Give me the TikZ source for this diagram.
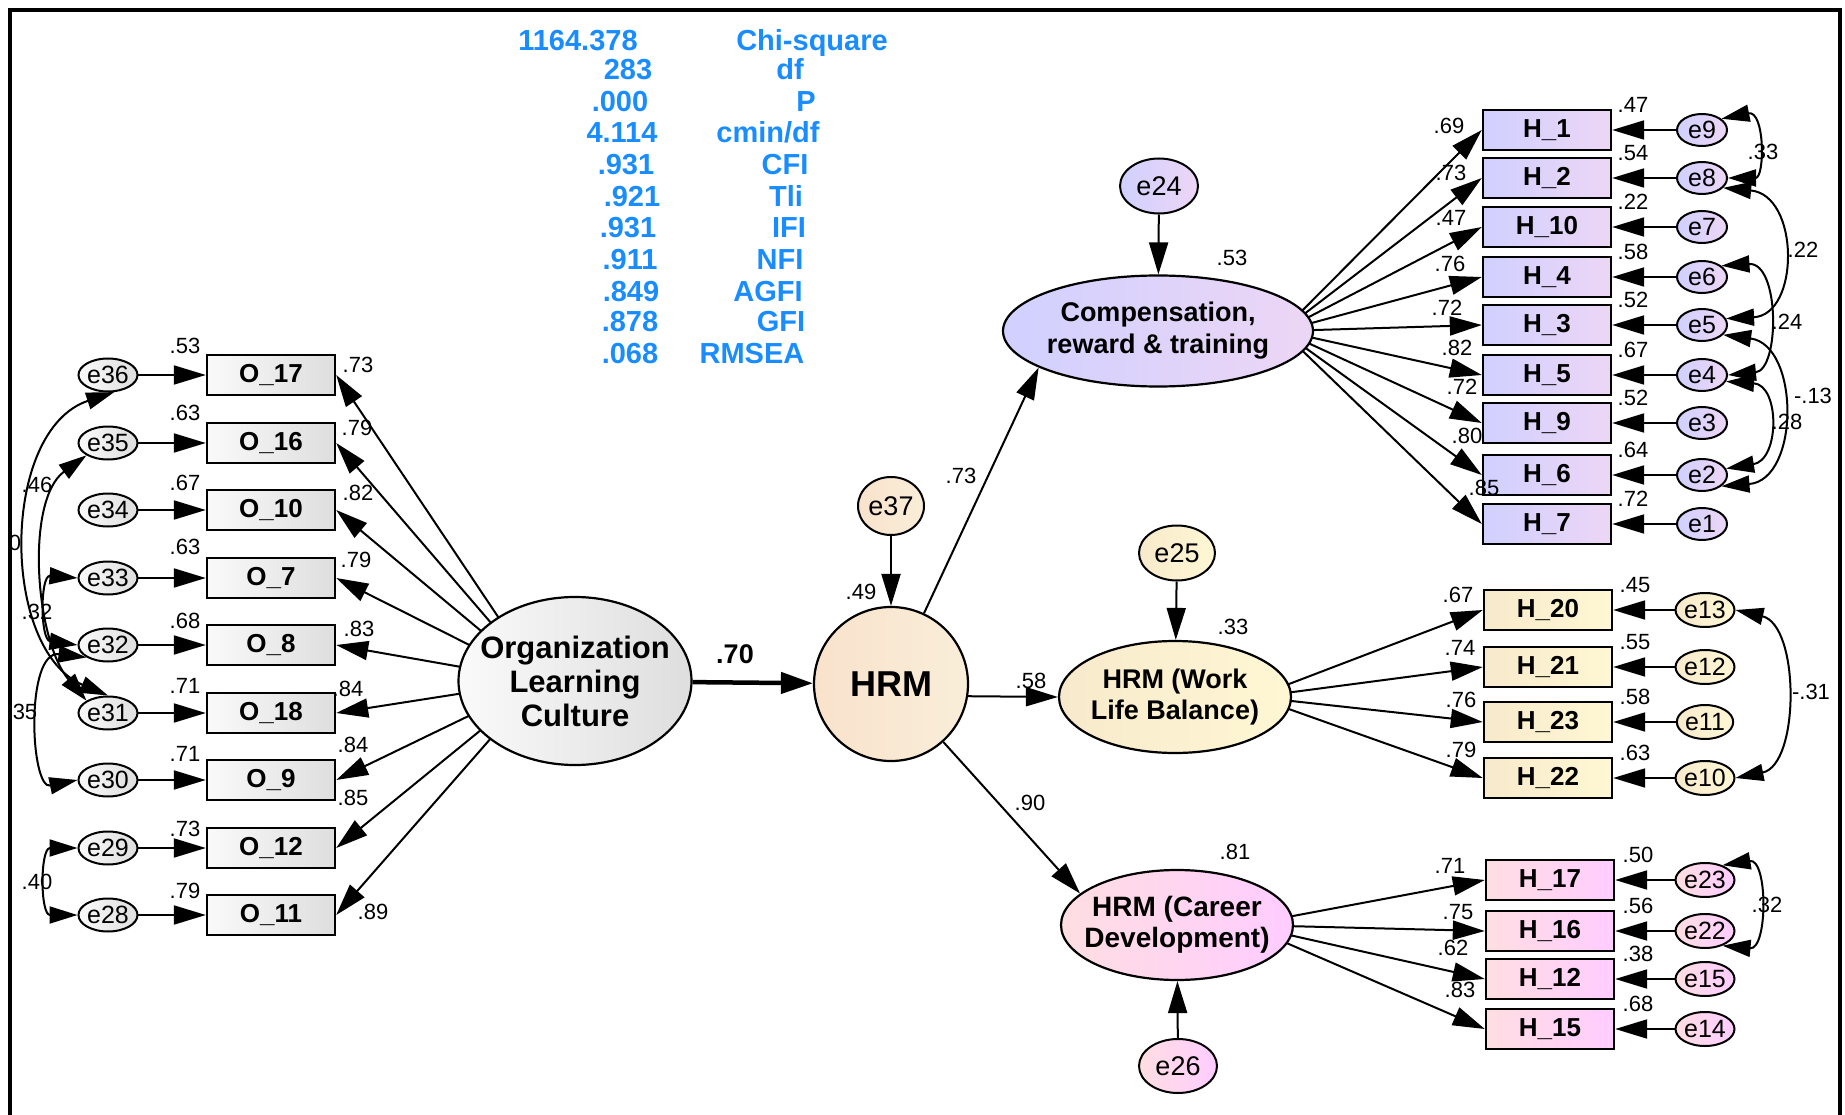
\documentclass[tikz,border=0pt]{standalone}
\usepackage{fontspec}
\setmainfont{Liberation Sans}
\usetikzlibrary{arrows.meta,shapes.geometric}
\pgfdeclarelayer{background}
\pgfsetlayers{background,main}
\definecolor{statblue}{RGB}{25,140,255}
\begin{document}
\begin{tikzpicture}[x=1pt,y=-1pt,
  every node/.style={inner sep=0pt},
  obsbox/.style={draw, line width=2.4pt, minimum width=128pt, minimum height=40pt,
    font=\fontsize{26}{26}\selectfont\bfseries},
  errnode/.style={ellipse, draw, line width=2pt, minimum width=52pt, minimum height=33pt,
    font=\fontsize{25}{25}\selectfont},
  bigerr/.style={ellipse, draw, line width=2pt, font=\fontsize{27}{27}\selectfont},
  latnode/.style={ellipse, draw, line width=2.2pt, align=center, inner xsep=-40pt},
  vlabel/.style={font=\fontsize{22}{22}\selectfont, text height=15.5pt, text depth=0pt},
  fitstat/.style={font=\fontsize{29}{29}\selectfont\bfseries, text=statblue, text height=20pt, text depth=0pt},
  onearrow/.style={line width=2pt, -{Triangle[length=32pt,width=19pt]}},
  twoarrow/.style={line width=2pt, {Triangle[length=28pt,width=17pt]}-{Triangle[length=28pt,width=17pt]}},
  grayshade/.style={left color=black!2, right color=black!13},
  peachshade/.style={left color={rgb,255:red,249;green,226;blue,204}, right color={rgb,255:red,249;green,238;blue,217}},
  lilacshade/.style={left color={rgb,255:red,208;green,208;blue,255}, right color={rgb,255:red,237;green,214;blue,245}},
  creamshade/.style={left color={rgb,255:red,247;green,234;blue,204}, right color={rgb,255:red,255;green,247;blue,212}},
  pinkshade/.style={left color={rgb,255:red,255;green,222;blue,226}, right color={rgb,255:red,255;green,204;blue,255}},
]
\useasboundingbox (0,0) rectangle (1845,1115);

% fit statistics
\foreach \v/\x/\y [count=\i] in {1164.378/578/41, 283/628/70, .000/620/102, 4.114/622/133,
  .931/626/165, .921/632/197, .931/628/228, .911/630/260, .849/631/292, .878/630/322, .068/630/353}
  \node[fitstat] (fv\i) at (\x,\y) {\v};
\node[fitstat] (fn1) at (812,41) {Chi-square};
\node[fitstat] (fn2) at (790,70) {df};
\node[fitstat] (fn3) at (806,102) {P};
\node[fitstat] (fn4) at (768,133) {cmin/df};
\node[fitstat] (fn5) at (785,165) {CFI};
\node[fitstat] (fn6) at (786,197) {Tli};
\node[fitstat] (fn7) at (789,228) {IFI};
\node[fitstat] (fn8) at (780,260) {NFI};
\node[fitstat] (fn9) at (768,292) {AGFI};
\node[fitstat] (fn10) at (781,322) {GFI};
\node[fitstat] (fn11) at (752,353) {RMSEA};

% organisational learning culture indicators
\foreach \n/\lab/\e/\y/\sm/\sy/\ld/\lx/\ly in {
  o17/O\_17/e36/375/.53/346/.73/358/365,
  o16/O\_16/e35/443/.63/413/.79/357/428,
  o10/O\_10/e34/510/.67/483/.82/358/493,
  o7/O\_7/e33/578/.63/547/.79/356/560,
  o8/O\_8/e32/645/.68/621/.83/359/629,
  o18/O\_18/e31/713/.71/686/.84/348/689,
  o9/O\_9/e30/780/.71/754/.84/353/745,
  o12/O\_12/e29/848/.73/829/.85/353/798,
  o11/O\_11/e28/915/.79/891/.89/373/912} {
  \node[obsbox, grayshade] (\n) at (271,\y) {\lab};
  \node[errnode, grayshade] (\e) at (108,\y) {\e};
  \node[vlabel] (\n s) at (185,\sy) {\sm};
  \node[vlabel] (\n l) at (\lx,\ly) {\ld};
}

% latent variables
\node[latnode, grayshade, minimum width=233pt, minimum height=168pt,
  font=\fontsize{31}{34}\selectfont\bfseries] (olc) at (575,681) {Organization\\Learning\\Culture};
\node[circle, draw, line width=2.2pt, peachshade, minimum size=154pt,
  font=\fontsize{36}{36}\selectfont\bfseries] (hrm) at (891,684) {HRM};
\node[latnode, lilacshade, minimum width=310pt, minimum height=111pt,
  font=\fontsize{27}{32}\selectfont\bfseries] (comp) at (1158,331) {Compensation,\\reward \& training};
\node[latnode, creamshade, minimum width=232pt, minimum height=112pt,
  font=\fontsize{27}{31}\selectfont\bfseries] (wlb) at (1175,697) {HRM (Work\\Life Balance)};
\node[latnode, pinkshade, minimum width=232pt, minimum height=110pt,
  font=\fontsize{28}{31}\selectfont\bfseries] (cd) at (1177,925) {HRM (Career\\Development)};

% structural disturbances
\node[bigerr, peachshade, minimum width=66pt, minimum height=58pt] (e37) at (891,506) {e37};
\node[bigerr, lilacshade, minimum width=78pt, minimum height=55pt] (e24) at (1159,186) {e24};
\node[bigerr, creamshade, minimum width=76pt, minimum height=55pt] (e25) at (1177,553) {e25};
\node[bigerr, pinkshade, minimum width=78pt, minimum height=54pt] (e26) at (1178,1066) {e26};

% compensation indicators
\foreach \n/\lab/\e/\y/\sm/\ld/\lx/\ly in {
  h1/H\_1/e9/130/.47/.69/1449/126,
  h2/H\_2/e8/178/.54/.73/1451/173,
  h10/H\_10/e7/227/.22/.47/1451/218,
  h4/H\_4/e6/277/.58/.76/1450/264,
  h3/H\_3/e5/325/.52/.72/1447/308,
  h5/H\_5/e4/375/.67/.82/1457/348,
  h9/H\_9/e3/423/.52/.72/1462/387,
  h6/H\_6/e2/475/.64/.80/1467/436,
  h7/H\_7/e1/524/.72/.85/1484/488} {
  \node[obsbox, lilacshade] (\n) at (1547,\y) {\lab};
  \node[errnode, lilacshade, minimum width=50pt, minimum height=32pt] (\e) at (1702,\y) {\e};
  \node[vlabel] (\n s) at (1633,\y-25) {\sm};
  \node[vlabel] (\n l) at (\lx,\ly) {\ld};
}

% work-life balance indicators
\foreach \n/\lab/\e/\y/\sm/\ld/\lx/\ly in {
  h20/H\_20/e13/610/.45/.67/1458/595,
  h21/H\_21/e12/667/.55/.74/1460/648,
  h23/H\_23/e11/722/.58/.76/1461/700,
  h22/H\_22/e10/778/.63/.79/1461/750} {
  \node[obsbox, creamshade] (\n) at (1548,\y) {\lab};
  \node[errnode, creamshade, minimum width=50pt, minimum height=34pt] (\e) at (1705,\y) {\e};
  \node[vlabel] (\n s) at (1635,\y-25) {\sm};
  \node[vlabel] (\n l) at (\lx,\ly) {\ld};
}

% career development indicators
\foreach \n/\lab/\e/\y/\sm/\ld/\lx/\ly in {
  h17/H\_17/e23/880/.50/.71/1450/866,
  h16/H\_16/e22/931/.56/.75/1458/912,
  h12/H\_12/e15/979/.38/.62/1453/948,
  h15/H\_15/e14/1029/.68/.83/1460/990} {
  \node[obsbox, pinkshade] (\n) at (1550,\y) {\lab};
  \node[errnode, pinkshade, minimum width=50pt, minimum height=34pt] (\e) at (1705,\y) {\e};
  \node[vlabel] (\n s) at (1638,\y-25) {\sm};
  \node[vlabel] (\n l) at (\lx,\ly) {\ld};
}

% radiating loadings start inside the latent ellipses
\coordinate (olcsrc) at (541,681);
\coordinate (compsrc) at (1282,331);
\coordinate (wlbsrc) at (1255,697);
\coordinate (cdsrc) at (1245,925);

\begin{pgfonlayer}{background}
  \foreach \n in {o17,o16,o10,o7,o8,o18,o9,o12,o11} \draw[onearrow] (olcsrc) -- (\n.east);
  \foreach \n in {h1,h2,h10,h4,h3,h5,h9,h6,h7} \draw[onearrow] (compsrc) -- (\n.west);
  \foreach \n in {h20,h21,h23,h22} \draw[onearrow] (wlbsrc) -- (\n.west);
  \foreach \n in {h17,h16,h12,h15} \draw[onearrow] (cdsrc) -- (\n.west);
\end{pgfonlayer}

% residual paths
\foreach \e/\n in {e36/o17,e35/o16,e34/o10,e33/o7,e32/o8,e31/o18,e30/o9,e29/o12,e28/o11,
  e9/h1,e8/h2,e7/h10,e6/h4,e5/h3,e4/h5,e3/h9,e2/h6,e1/h7,
  e13/h20,e12/h21,e11/h23,e10/h22,e23/h17,e22/h16,e15/h12,e14/h15}
  \draw[onearrow] (\e) -- (\n);
\draw[onearrow] (e37) -- (hrm);
\draw[onearrow] (e24) -- (comp);
\draw[onearrow] (e25) -- (wlb);
\draw[onearrow] (e26) -- (cd);

% structural paths
\draw[line width=4.5pt, -{Triangle[length=32pt,width=21pt]}] (olc) -- (hrm);
\draw[onearrow] (hrm) -- (comp.197);
\draw[onearrow] (hrm.-9) -- (wlb.west);
\draw[onearrow] (hrm) -- (cd.162);

\node[font=\fontsize{27}{27}\selectfont\bfseries] (b70) at (735,654) {.70};
\node[vlabel] (b73) at (961,476) {.73};
\node[vlabel] (b58) at (1031,681) {.58};
\node[vlabel] (b90) at (1030,803) {.90};
\node[vlabel] (r49) at (861,592) {.49};
\node[vlabel] (r53) at (1232,258) {.53};
\node[vlabel] (r33) at (1233,627) {.33};
\node[vlabel] (r81) at (1235,852) {.81};

% covariances among residuals, left
\draw[twoarrow] (e36.-70) .. controls (0,430) and (0,650) .. (e31.north);
\draw[twoarrow] (e35.south west) .. controls (25,500) and (35,640) .. (e31.north west);
\draw[twoarrow] (e33.west) .. controls (40,575) and (40,640) .. (e32.west);
\draw[twoarrow] (e32.south west) .. controls (25,650) and (30,790) .. (e30.west);
\draw[twoarrow] (e29.west) .. controls (40,848) and (40,915) .. (e28.west);
\node[vlabel] (c46) at (37,485) {.46};
\node[vlabel] (c30) at (15,543) {0};
\node[vlabel] (c32) at (37,612) {.32};
\node[vlabel] (c35) at (25,712) {35};
\node[vlabel] (c40) at (37,882) {.40};

% covariances among residuals, right
\draw[twoarrow] (e9.30) .. controls (1765,110) and (1765,178) .. (e8.east);
\draw[twoarrow] (e8.-25) .. controls (1800,195) and (1800,315) .. (e5.15);
\draw[twoarrow] (e6.30) .. controls (1780,262) and (1780,370) .. (e4.east);
\draw[twoarrow] (e5.-25) .. controls (1800,345) and (1800,480) .. (e2.-30);
\draw[twoarrow] (e4.-15) .. controls (1780,385) and (1780,460) .. (e2.15);
\draw[twoarrow] (e13.east) .. controls (1800,625) and (1800,765) .. (e10.east);
\draw[twoarrow] (e23.40) .. controls (1768,858) and (1768,950) .. (e22.-40);
\node[vlabel] (c33) at (1763,152) {.33};
\node[vlabel] (c22) at (1803,250) {.22};
\node[vlabel] (c24) at (1787,322) {.24};
\node[vlabel] (c13) at (1813,396) {-.13};
\node[vlabel] (c28) at (1787,422) {.28};
\node[vlabel] (c31) at (1811,692) {-.31};
\node[vlabel] (c32b) at (1767,905) {.32};

% frame
\draw[line width=4pt] (10,1115) -- (10,10) -- (1840,10) -- (1840,1115);
\end{tikzpicture}
\end{document}
